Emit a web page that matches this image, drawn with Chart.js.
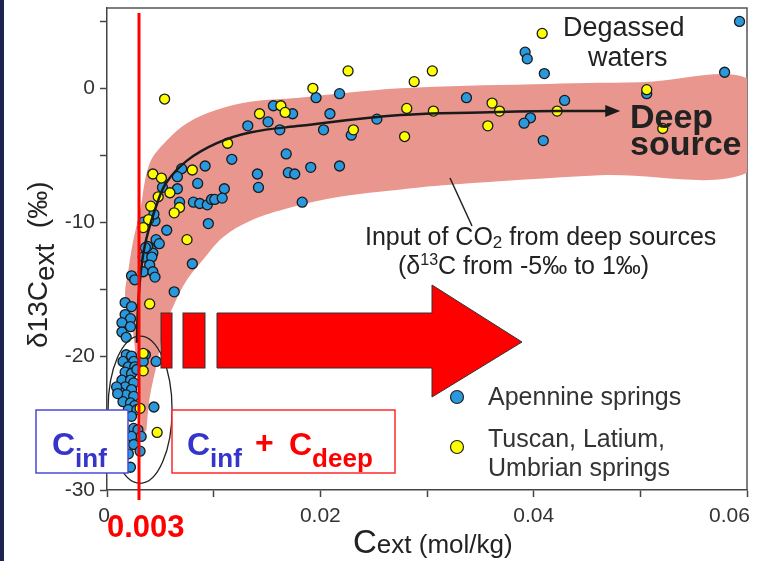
<!DOCTYPE html>
<html>
<head>
<meta charset="utf-8">
<script src="https://cdn.jsdelivr.net/npm/chart.js@4.4.1/dist/chart.umd.min.js"></script>
<style>
  html, body { margin: 0; padding: 0; background: #fff; }
  canvas { display: block; }
</style>
</head>
<body>
<canvas id="chart" width="764" height="561"></canvas>
<script>
// C_ext (mol/kg), delta13C_ext (permil)
const apennineSprings = [
  [0.0593, 5.0], [0.0579, 1.2], [0.0392, 2.7], [0.0394, 2.2], [0.0410, 1.1], [0.0337, -0.7],
  [0.0429, -0.9], [0.0397, -2.2], [0.0391, -2.6], [0.0409, -3.9], [0.0506, -0.4],
  [0.0196, -0.7], [0.0218, -0.4], [0.0174, -1.9], [0.0209, -1.9], [0.0203, -3.1], [0.0229, -3.5],
  [0.0253, -2.3], [0.0162, -3.1], [0.0168, -4.9], [0.0170, -6.3], [0.0176, -6.4], [0.0191, -5.9],
  [0.0218, -5.8], [0.0183, -8.5], [0.0156, -1.3], [0.0151, -2.5], [0.0132, -2.8], [0.0117, -5.3],
  [0.0092, -5.8], [0.0141, -6.4], [0.0142, -7.4], [0.0070, -6.0], [0.0066, -6.6], [0.0085, -7.1],
  [0.0052, -7.4], [0.0066, -7.5], [0.0110, -7.5], [0.0081, -8.5], [0.0087, -8.6], [0.0094, -8.7],
  [0.0098, -8.3], [0.0101, -8.3], [0.0108, -8.2], [0.0068, -8.5], [0.0095, -10.1], [0.0056, -10.6],
  [0.0034, -10.0], [0.0045, -9.9], [0.0047, -11.5], [0.0043, -12.3], [0.0038, -11.8], [0.0044, -9.4],
  [0.0080, -13.1], [0.0063, -15.2], [0.0046, -20.4], [0.0044, -23.8],
  [0.0034, -12.6], [0.0042, -12.6], [0.0040, -13.2], [0.0034, -13.7], [0.0043, -13.7], [0.0045, -14.1],
  [0.0023, -14.0], [0.0026, -14.3], [0.0046, -11.3], [0.0049, -11.6], [0.0036, -11.9],
  [0.0017, -16.0], [0.0023, -16.3], [0.0017, -16.9], [0.0022, -17.2], [0.0014, -17.5], [0.0022, -17.8],
  [0.0014, -18.2], [0.0018, -18.6],
  [0.0018, -19.9], [0.0023, -20.0], [0.0015, -20.4], [0.0025, -20.4], [0.0020, -20.8], [0.0026, -20.8],
  [0.0017, -21.2], [0.0023, -21.3], [0.0028, -21.0], [0.0014, -21.8], [0.0022, -21.8], [0.0025, -22.0],
  [0.0017, -22.3], [0.0023, -22.5], [0.0012, -22.7], [0.0018, -22.9], [0.0025, -23.0], [0.0015, -23.4],
  [0.0022, -23.5], [0.0026, -23.7], [0.0020, -24.0], [0.0028, -24.0], [0.0023, -24.5], [0.0025, -25.4],
  [0.0029, -25.5], [0.0032, -26.0], [0.0023, -26.0], [0.0025, -26.6], [0.0031, -27.1], [0.0020, -27.3],
  [0.0022, -28.3], [0.0036, -19.9], [0.0034, -20.4], [0.0009, -22.3], [0.0010, -22.8]
];

const tuscanSprings = [
  [0.0408, 4.1], [0.0305, 1.3], [0.0288, 0.5], [0.0281, -1.5], [0.0306, -1.7], [0.0361, -1.1],
  [0.0368, -1.7], [0.0357, -2.8], [0.0422, -1.7], [0.0506, -0.1], [0.0521, -3.0], [0.0279, -3.6],
  [0.0226, 1.3], [0.0193, 0.0], [0.0163, -1.3], [0.0167, -1.8], [0.0231, -3.1],
  [0.0054, -0.8], [0.0143, -1.9], [0.0113, -4.1], [0.0080, -6.1], [0.0043, -6.4], [0.0051, -6.7],
  [0.0059, -7.8], [0.0048, -8.1], [0.0041, -8.8], [0.0068, -8.9], [0.0063, -9.3], [0.0039, -9.8],
  [0.0034, -10.4], [0.0075, -11.3], [0.0040, -16.1],
  [0.0034, -19.8], [0.0034, -21.1], [0.0031, -23.9], [0.0047, -25.7]
];

// mixing trend line (ends at the arrow base)
const mixingLine = [
  [0.0028, -19.0], [0.0029, -16.5], [0.0032, -13.5], [0.0037, -11.2], [0.0047, -8.6], [0.0056, -7.0],
  [0.0075, -5.4], [0.0103, -4.1], [0.0134, -3.3], [0.0181, -2.8], [0.0275, -2.0], [0.0350, -1.8],
  [0.0420, -1.7], [0.0469, -1.7]
];

// pink band edges, upper edge left to right, lower edge right to left
const bandUpper = [
  [0.0033, -26.0], [0.0029, -22.0], [0.0024, -18.0], [0.0017, -15.5], [0.0020, -13.6], [0.0024, -11.6],
  [0.0031, -9.1], [0.0040, -5.6], [0.0056, -3.9], [0.0075, -2.6], [0.0103, -1.6], [0.0134, -1.0],
  [0.0180, -0.7], [0.0275, 0.0], [0.0400, 0.3], [0.0500, 0.45], [0.0605, 0.5]
];
const bandLower = [
  [0.0605, -6.1], [0.0462, -6.5], [0.0322, -7.2], [0.0293, -7.4], [0.0218, -8.1], [0.0172, -8.9],
  [0.0134, -9.9], [0.0109, -11.1], [0.0090, -12.8], [0.0075, -14.3], [0.0062, -16.3], [0.0053, -18.1],
  [0.0047, -20.5], [0.0040, -23.1], [0.0037, -25.5]
];

const cInf = 0.003;
const xTicks = [0, 0.02, 0.04, 0.06];
const yTicks = [0, -10, -20, -30];

const FONT = "'Liberation Sans', Arial, Helvetica, sans-serif";
const BLUE_TXT = "#3535cc";

function pts(list) {
  return list.map(p => ({ x: p[0], y: p[1] }));
}

function runs(ctx, x, y, parts) {
  for (const p of parts) {
    if (p.x !== undefined) x = p.x;
    ctx.font = p.font;
    ctx.fillStyle = p.color || "#222";
    ctx.fillText(p.t, x, y + (p.dy || 0));
    x += ctx.measureText(p.t).width;
  }
  return x;
}

const pagePlugin = {
  id: "page",
  beforeDraw(chart) {
    const ctx = chart.ctx;
    ctx.save();
    ctx.fillStyle = "#fff";
    ctx.fillRect(0, 0, chart.width, chart.height);
    ctx.fillStyle = "#1e2350";
    ctx.fillRect(0, 0, 4, chart.height);
    ctx.restore();
  },
  beforeDatasetsDraw(chart) {
    const { ctx, chartArea: a } = chart;
    ctx.save();
    ctx.strokeStyle = "#555";
    ctx.lineWidth = 1.5;
    ctx.beginPath();
    ctx.moveTo(a.left, a.top);
    ctx.lineTo(a.right, a.top);
    ctx.lineTo(a.right, a.bottom);
    ctx.stroke();
    ctx.restore();
  }
};

const notesPlugin = {
  id: "notes",
  afterDatasetsDraw(chart) {
    const ctx = chart.ctx;
    const xs = chart.scales.x, ys = chart.scales.y;
    ctx.save();
    ctx.textAlign = "left";
    ctx.textBaseline = "alphabetic";

    // arrow head at end of the mixing line
    const last = mixingLine[mixingLine.length - 1];
    const hx = xs.getPixelForValue(last[0]), hy = ys.getPixelForValue(last[1]);
    ctx.fillStyle = "#1a1a1a";
    ctx.beginPath();
    ctx.moveTo(hx - 2, hy - 6);
    ctx.lineTo(hx + 13, hy);
    ctx.lineTo(hx - 2, hy + 6);
    ctx.closePath();
    ctx.fill();

    // ellipse round the low-C cluster
    const ex = xs.getPixelForValue(0.0031), ey = ys.getPixelForValue(-24.0);
    const erx = xs.getPixelForValue(0.0061) - ex, ery = ys.getPixelForValue(-29.5) - ey;
    ctx.strokeStyle = "#222";
    ctx.lineWidth = 1.3;
    ctx.beginPath();
    ctx.ellipse(ex, ey, erx, ery, 0, 0, Math.PI * 2);
    ctx.stroke();

    // red C_inf line
    const rx = xs.getPixelForValue(cInf);
    ctx.strokeStyle = "#ff0000";
    ctx.lineWidth = 3;
    ctx.beginPath();
    ctx.moveTo(rx, 13);
    ctx.lineTo(rx, 500);
    ctx.stroke();

    // big red arrow
    ctx.fillStyle = "#ff0000";
    ctx.strokeStyle = "#333";
    ctx.lineWidth = 1;
    ctx.fillRect(161, 313, 11, 55);
    ctx.strokeRect(161, 313, 11, 55);
    ctx.fillRect(183, 313, 22, 55);
    ctx.strokeRect(183, 313, 22, 55);
    ctx.beginPath();
    ctx.moveTo(217, 313);
    ctx.lineTo(432, 313);
    ctx.lineTo(432, 285);
    ctx.lineTo(522, 342);
    ctx.lineTo(432, 397);
    ctx.lineTo(432, 368);
    ctx.lineTo(217, 368);
    ctx.closePath();
    ctx.fill();
    ctx.stroke();

    // boxes
    ctx.fillStyle = "#fff";
    ctx.fillRect(36, 410, 92, 63);
    ctx.strokeStyle = "#4a4ad8";
    ctx.lineWidth = 1.5;
    ctx.strokeRect(36, 410, 92, 63);
    ctx.fillStyle = "#fff";
    ctx.fillRect(172, 410, 223, 63);
    ctx.strokeStyle = "#ff2a2a";
    ctx.strokeRect(172, 410, 223, 63);

    runs(ctx, 52, 455, [
      { t: "C", font: "bold 32px " + FONT, color: BLUE_TXT },
      { t: "inf", font: "bold 26px " + FONT, color: BLUE_TXT, dy: 12 }
    ]);
    runs(ctx, 187, 455, [
      { t: "C", font: "bold 32px " + FONT, color: BLUE_TXT },
      { t: "inf", font: "bold 26px " + FONT, color: BLUE_TXT, dy: 12 },
      { t: "+", x: 255, font: "bold 32px " + FONT, color: "#ff0000", dy: -2 },
      { t: "C", x: 289, font: "bold 32px " + FONT, color: "#ff0000" },
      { t: "deep", font: "bold 26px " + FONT, color: "#ff0000", dy: 12 }
    ]);

    // text notes
    ctx.fillStyle = "#222";
    ctx.font = "27px " + FONT;
    ctx.fillText("Degassed", 563, 36);
    ctx.fillText("waters", 588, 66);
    ctx.font = "bold 34px " + FONT;
    ctx.fillText("Deep", 630, 128);
    ctx.fillText("source", 630, 155);

    ctx.strokeStyle = "#222";
    ctx.lineWidth = 1.5;
    ctx.beginPath();
    ctx.moveTo(450, 178);
    ctx.lineTo(472, 226);
    ctx.stroke();

    runs(ctx, 365, 245, [
      { t: "Input of CO", font: "25px " + FONT, color: "#222" },
      { t: "2", font: "17px " + FONT, color: "#222", dy: 3 },
      { t: " from deep sources", font: "25px " + FONT, color: "#222" }
    ]);
    runs(ctx, 398, 274, [
      { t: "(δ", font: "25px " + FONT, color: "#222" },
      { t: "13", font: "16px " + FONT, color: "#222", dy: -9 },
      { t: "C from -5‰ to 1‰)", font: "25px " + FONT, color: "#222" }
    ]);

    // legend
    const legend = [
      { ds: 0, y: 397, lines: [["Apennine springs", 405]] },
      { ds: 1, y: 447, lines: [["Tuscan, Latium,", 447], ["Umbrian springs", 476]] }
    ];
    for (const item of legend) {
      const ds = chart.data.datasets[item.ds];
      ctx.fillStyle = ds.backgroundColor;
      ctx.strokeStyle = "#222";
      ctx.lineWidth = 1.2;
      ctx.beginPath();
      ctx.arc(457, item.y, 6.5, 0, Math.PI * 2);
      ctx.fill();
      ctx.stroke();
      ctx.fillStyle = "#333";
      ctx.font = "25px " + FONT;
      for (const [t, by] of item.lines) ctx.fillText(t, 488, by);
    }

    // axis titles
    runs(ctx, 353, 553, [
      { t: "C", font: "33px " + FONT, color: "#222" },
      { t: "ext (mol/kg)", font: "26px " + FONT, color: "#222" }
    ]);
    ctx.save();
    ctx.translate(47, 348);
    ctx.rotate(-Math.PI / 2);
    runs(ctx, 0, 0, [
      { t: "δ13C", font: "28px " + FONT, color: "#222" },
      { t: "ext", font: "28px " + FONT, color: "#222", dy: 7 },
      { t: "  (‰)", font: "28px " + FONT, color: "#222" }
    ]);
    ctx.restore();

    // 0.003 label
    ctx.fillStyle = "#ff0000";
    ctx.font = "bold 31px " + FONT;
    ctx.fillText("0.003", 107, 537);

    ctx.restore();
  }
};

const ctx = document.getElementById("chart").getContext("2d");
const chart = new Chart(ctx, {
  type: "scatter",
  data: {
    datasets: [
      {
        label: "Apennine springs",
        data: pts(apennineSprings),
        backgroundColor: "#2a98dc",
        borderColor: "#1a1a1a",
        borderWidth: 1.3,
        pointRadius: 5,
        order: 3
      },
      {
        label: "Tuscan, Latium, Umbrian springs",
        data: pts(tuscanSprings),
        backgroundColor: "#ffff00",
        borderColor: "#1a1a1a",
        borderWidth: 1.3,
        pointRadius: 5,
        order: 2
      },
      {
        type: "line",
        label: "mixing",
        data: pts(mixingLine),
        borderColor: "#1a1a1a",
        borderWidth: 2.5,
        pointRadius: 0,
        tension: 0.4,
        fill: false,
        order: 1
      },
      {
        type: "line",
        label: "band",
        data: pts(bandUpper.concat(bandLower)),
        borderColor: "rgba(0,0,0,0)",
        borderWidth: 0,
        backgroundColor: "#e9968f",
        pointRadius: 0,
        tension: 0.35,
        fill: "shape",
        order: 10
      }
    ]
  },
  options: {
    responsive: false,
    animation: false,
    devicePixelRatio: 1,
    layout: { padding: { left: 0, top: 8, right: 17, bottom: 0 } },
    plugins: {
      legend: { display: false },
      tooltip: { enabled: false }
    },
    scales: {
      x: {
        type: "linear",
        min: 0,
        max: 0.06,
        afterFit(s) {
          s.height = 71;
          s.paddingLeft = 0;
          s.paddingRight = 0;
        },
        border: { color: "#444", width: 1.5 },
        grid: { drawOnChartArea: false, tickLength: 7, tickColor: "#444", tickWidth: 1.5 },
        ticks: {
          stepSize: 0.01,
          autoSkip: false,
          maxRotation: 0,
          padding: 7,
          color: "#333",
          font: { family: FONT, size: 21 },
          callback(v) {
            const r = Math.round(v * 1000) / 1000;
            if (!xTicks.includes(r)) return "";
            if (r === 0) return "0 ";
            // last label is pulled inside the page, as in the figure
            return r === 0.06 ? r.toFixed(2) + "      " : r.toFixed(2);
          }
        }
      },
      y: {
        min: -30,
        max: 6,
        afterFit(s) {
          s.width = 107;
          s.paddingTop = 0;
          s.paddingBottom = 0;
        },
        border: { color: "#444", width: 1.5 },
        grid: { drawOnChartArea: false, tickLength: 7, tickColor: "#444", tickWidth: 1.5 },
        ticks: {
          stepSize: 5,
          includeBounds: false,
          autoSkip: false,
          padding: 5,
          color: "#333",
          font: { family: FONT, size: 21 },
          callback(v) {
            return yTicks.includes(v) ? String(v) : "";
          }
        }
      }
    }
  },
  plugins: [pagePlugin, notesPlugin]
});
</script>
</body>
</html>
